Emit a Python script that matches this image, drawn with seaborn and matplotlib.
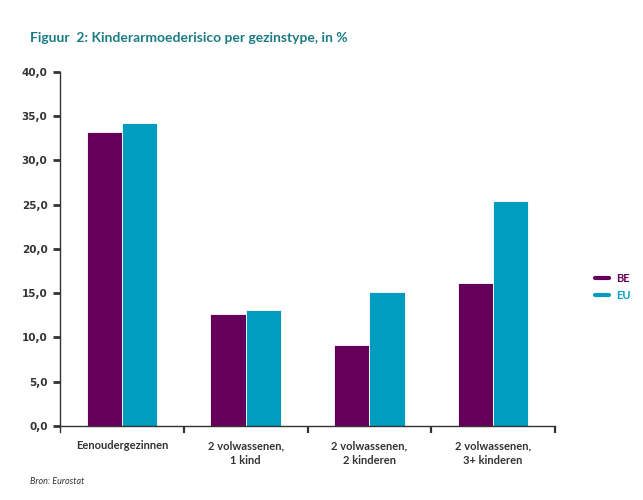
import pandas as pd
import matplotlib

matplotlib.use("Agg")

import matplotlib.pyplot as plt
from matplotlib.lines import Line2D
from matplotlib.ticker import FuncFormatter, FixedLocator
import seaborn as sns

# data
categories = ["Eenoudergezinnen", "2 volwassenen,\n1 kind",
              "2 volwassenen,\n2 kinderen", "2 volwassenen,\n3+ kinderen"]
series = ["BE", "EU"]
be_values = [33.2, 12.7, 9.2, 16.2]
eu_values = [34.2, 13.1, 15.1, 25.4]
colors = {"BE": "#65005a", "EU": "#009dbf"}

df = pd.DataFrame({
    "type": categories * 2,
    "regio": ["BE"] * 4 + ["EU"] * 4,
    "risico": be_values + eu_values,
})

sns.set_theme(style="white")
plt.rcParams["font.family"] = ["Lato", "DejaVu Sans"]

fig = plt.figure(figsize=(6.43, 5.0), dpi=100)
ax = fig.add_axes([60 / 643, 1 - 432 / 500, 495 / 643, 360 / 500])

sns.barplot(data=df, x="type", y="risico", hue="regio", hue_order=series,
            palette=colors, width=0.57, gap=0, saturation=1, ax=ax,
            legend=False)
for p in ax.patches:
    p.set_edgecolor("white")
    p.set_linewidth(0.6)

ax.set_xlim(-0.5, 3.5)
ax.set_ylim(-0.68, 40)
ax.set_yticks([0, 5, 10, 15, 20, 25, 30, 35, 40])
ax.yaxis.set_major_formatter(FuncFormatter(lambda v, _: f"{v:.1f}".replace(".", ",")))
ax.spines["bottom"].set_position(("data", 0))
ax.spines["top"].set_visible(False)
ax.spines["right"].set_visible(False)
for s in ["left", "bottom"]:
    ax.spines[s].set_color("#333333")
    ax.spines[s].set_linewidth(1.0)
ax.spines["left"].set_bounds(-0.68, 40)

ax.tick_params(axis="y", direction="out", length=5, width=2, color="#333333",
               labelsize=7.5, labelcolor="#333333", left=True, pad=4)
for lab in ax.get_yticklabels():
    lab.set_fontweight("bold")
    lab.set_family(["DejaVu Sans"])
ax.xaxis.set_minor_locator(FixedLocator([0.5, 1.5, 2.5, 3.5]))
ax.tick_params(axis="x", which="major", length=0, pad=10,
               labelsize=8, labelcolor="#333333", bottom=True)
ax.tick_params(axis="x", which="minor", direction="out", length=5, width=1.6,
               color="#333333", bottom=True)
for lab in ax.get_xticklabels():
    lab.set_fontweight("bold")
    lab.set_linespacing(1.45)
ax.set_xlabel("")
ax.set_ylabel("")
ax.grid(False)

handles = [Line2D([0], [0], color=colors[s], lw=3) for s in series]
leg = fig.legend(handles, series, loc="center left",
                 bbox_to_anchor=(585 / 643, 1 - 287 / 500), frameon=False,
                 handlelength=1.3, handletextpad=0.6, labelspacing=0.6,
                 prop={"size": 8, "weight": "bold"})
for t, s in zip(leg.get_texts(), series):
    t.set_color(colors[s])

fig.text(30 / 643, 1 - 38 / 500,
         "Figuur  2: Kinderarmoederisico per gezinstype, in %",
         fontsize=10, fontweight="bold", color="#1b7b84", va="center")
fig.text(30 / 643, 1 - 482 / 500, "Bron: Eurostat", fontsize=6.5,
         style="italic", color="#333333", va="center")

fig.savefig("out.png", dpi=100)
